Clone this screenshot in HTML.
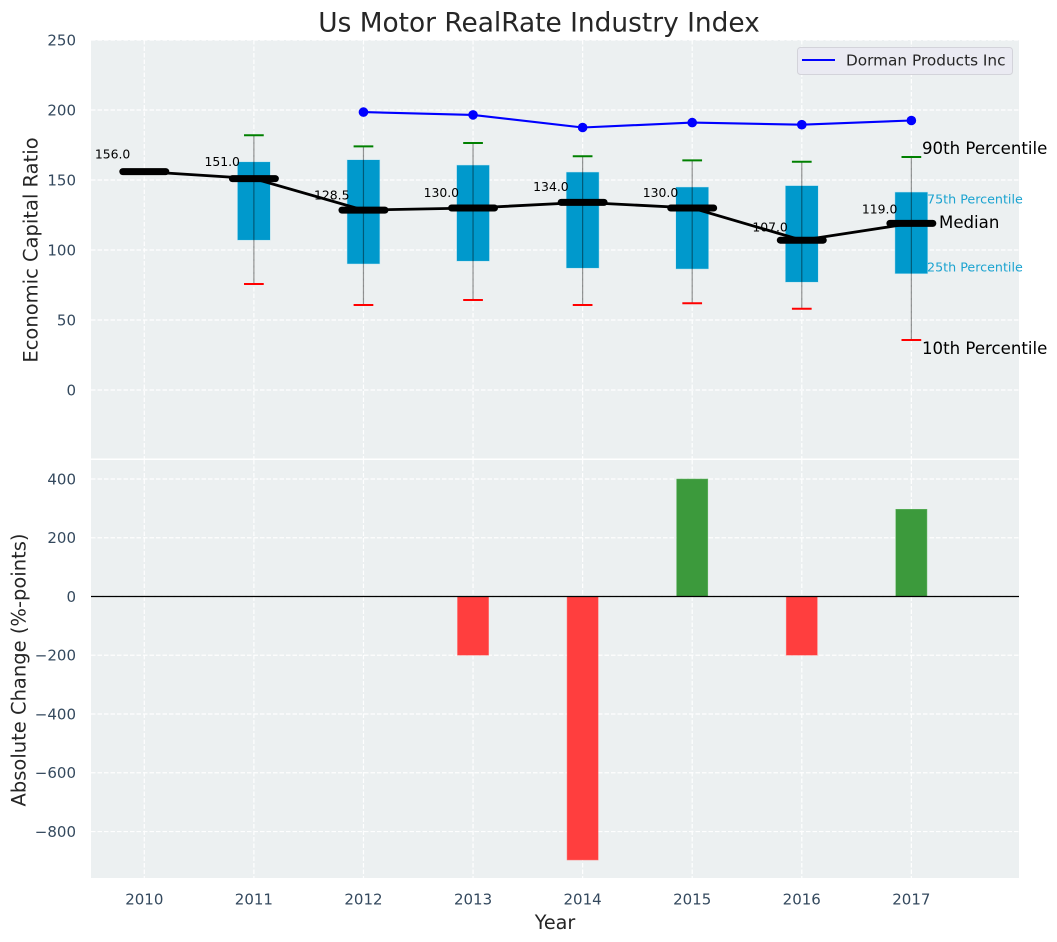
<!DOCTYPE html>
<html lang="en">
<head>
<meta charset="utf-8">
<title>Us Motor RealRate Industry Index</title>
<style>
  html, body { margin: 0; padding: 0; background: #fff; }
  svg { display: block; }
  text { font-family: "DejaVu Sans", "Liberation Sans", sans-serif; }
</style>
</head>
<body>
<svg id="chart" xmlns="http://www.w3.org/2000/svg" width="1057" height="942" viewBox="0 0 1057 942">
  <rect x="0" y="0" width="1057" height="942" fill="#ffffff"/>
  <rect x="91" y="40" width="928" height="418.5" fill="#ecf0f1"/>
  <rect x="91" y="460" width="928" height="418" fill="#ecf0f1"/>
  <g id="grid"></g>
  <g id="ticks"></g>
  <g id="marks-top"></g>
  <g id="marks-bottom"></g>
  <text x="539" y="31.5" text-anchor="middle" font-size="26.4" fill="#262626">Us Motor RealRate Industry Index</text>
  <text transform="translate(37.5,250) rotate(-90)" text-anchor="middle" font-size="19.5" fill="#262626">Economic Capital Ratio</text>
  <text transform="translate(25.5,670) rotate(-90)" text-anchor="middle" font-size="19.5" fill="#262626">Absolute Change (%-points)</text>
  <text x="555" y="929" text-anchor="middle" font-size="19.2" fill="#262626">Year</text>
  <g>
    <rect x="797.5" y="47.5" width="215" height="27" rx="3" fill="#eaeaf2" stroke="#d3d3da" stroke-width="1"/>
    <line x1="802" y1="60" x2="835" y2="60" stroke="#0000ff" stroke-width="2"/>
    <text x="846" y="65.5" font-size="15.3" fill="#262626">Dorman Products Inc</text>
  </g>
  <g>
    <text x="922" y="154" font-size="16.6" fill="#000">90th Percentile</text>
    <text x="927" y="203.5" font-size="12.7" fill="#1ba3d0">75th Percentile</text>
    <text x="939" y="228" font-size="16.6" fill="#000">Median</text>
    <text x="927" y="271.5" font-size="12.7" fill="#1ba3d0">25th Percentile</text>
    <text x="922" y="354" font-size="16.6" fill="#000">10th Percentile</text>
  </g>
</svg>
<script>
const years = [2010, 2011, 2012, 2013, 2014, 2015, 2016, 2017];
const medians = [156, 151, 128.5, 130, 134, 130, 107, 119];
const q75 = [null, 163, 164.5, 160.7, 155.7, 145, 146, 141.4];
const q25 = [null, 107, 90, 92, 87, 86.4, 77, 83];
const p90 = [null, 182, 174, 176.4, 167, 164, 163, 166.4];
const p10 = [null, 75.7, 60.7, 64.3, 60.7, 62, 58, 35.7];
const companyYears = [2012, 2013, 2014, 2015, 2016, 2017];
const companyValues = [198.5, 196.5, 187.5, 191, 189.5, 192.5];
const changeYears = [2013, 2014, 2015, 2016, 2017];
const changeValues = [-200, -897, 400, -200, 297];
const topTicks = [0, 50, 100, 150, 200, 250];
const bottomTicks = [-800, -600, -400, -200, 0, 200, 400];

const NS = 'http://www.w3.org/2000/svg';
const xScale = function (year) { return 144.3 + (year - 2010) * 109.58; };
const xUnit = function (years) { return years * 109.58; };
const yTop = function (v) { return 390 - v * 1.4; };
const yBottom = function (v) { return 596.5 - v * 0.2938; };

function make(parent, tag, attrs, content) {
  const el = document.createElementNS(NS, tag);
  Object.keys(attrs).forEach(function (k) { el.setAttribute(k, attrs[k]); });
  if (content !== undefined) el.textContent = content;
  parent.appendChild(el);
  return el;
}

const gridG = document.getElementById('grid');
const tickG = document.getElementById('ticks');
const topG = document.getElementById('marks-top');
const botG = document.getElementById('marks-bottom');
const gridStyle = { stroke: '#ffffff', 'stroke-width': 1.2, 'stroke-dasharray': '4.5 2', opacity: 0.95 };

years.forEach(function (yr) {
  const x = xScale(yr);
  const a = make(gridG, 'line', Object.assign({ x1: x, x2: x, y1: 40, y2: 458.5 }, gridStyle));
  
  
  const b = make(gridG, 'line', Object.assign({ x1: x, x2: x, y1: 460, y2: 878 }, gridStyle));
  
  
  const t = make(tickG, 'text', { x: x, y: 904.5, 'text-anchor': 'middle', 'font-size': 15, fill: '#34495e' }, String(yr));
  
  
});

topTicks.forEach(function (v) {
  const y = yTop(v);
  const g = make(gridG, 'line', Object.assign({ x1: 91, x2: 1019, y1: y, y2: y }, gridStyle));
  
  
  const t = make(tickG, 'text', { x: 76, y: y + 5.3, 'text-anchor': 'end', 'font-size': 15, fill: '#34495e' }, String(v));
  
  
});

bottomTicks.forEach(function (v) {
  const y = yBottom(v);
  const g = make(gridG, 'line', Object.assign({ x1: 91, x2: 1019, y1: y, y2: y }, gridStyle));
  
  
  const label = v < 0 ? '\u2212' + Math.abs(v) : String(v);
  const t = make(tickG, 'text', { x: 76, y: y + 5.3, 'text-anchor': 'end', 'font-size': 15, fill: '#34495e' }, label);
  
  
});

/* boxes */
years.forEach(function (yr, i) {
  if (q75[i] === null) return;
  const x = xScale(yr);
  const w = xUnit(0.3);
  const box = make(topG, 'rect', { x: x - w / 2, y: yTop(q75[i]), width: w, height: yTop(q25[i]) - yTop(q75[i]), fill: '#0099cc', stroke: '#bfe6f2', 'stroke-width': 0.5 });
  
  
});

/* whiskers */
years.forEach(function (yr, i) {
  if (p90[i] === null) return;
  const x = xScale(yr);
  const cap = xUnit(0.09);
  const stem = make(topG, 'line', { x1: x, x2: x, y1: yTop(p90[i]), y2: yTop(p10[i]), stroke: '#000000', 'stroke-opacity': 0.42, 'stroke-width': 1.2 });
  
  
  const hi = make(topG, 'line', { x1: x - cap, x2: x + cap, y1: yTop(p90[i]), y2: yTop(p90[i]), stroke: '#008000', 'stroke-width': 2 });
  
  
  const lo = make(topG, 'line', { x1: x - cap, x2: x + cap, y1: yTop(p10[i]), y2: yTop(p10[i]), stroke: '#ff0000', 'stroke-width': 2 });
  
  
});

/* company line */
const companyPoints = companyYears.map(function (yr, i) { return xScale(yr) + ',' + yTop(companyValues[i]); }).join(' ');
const companyLine = make(topG, 'polyline', { points: companyPoints, fill: 'none', stroke: '#0000ff', 'stroke-width': 2.1 });


companyYears.forEach(function (yr, i) {
  const dot = make(topG, 'circle', { cx: xScale(yr), cy: yTop(companyValues[i]), r: 4.8, fill: '#0000ff' });
  
  
});

/* median line and bars */
const medianPoints = years.map(function (yr, i) { return xScale(yr) + ',' + yTop(medians[i]); }).join(' ');
const medianLine = make(topG, 'polyline', { points: medianPoints, fill: 'none', stroke: '#000000', 'stroke-width': 2.8 });


years.forEach(function (yr, i) {
  const x = xScale(yr);
  const half = xUnit(0.196);
  const m = make(topG, 'line', { x1: x - half, x2: x + half, y1: yTop(medians[i]), y2: yTop(medians[i]), stroke: '#000000', 'stroke-width': 7, 'stroke-linecap': 'round' });
  
  
  const t = make(topG, 'text', { x: x - 31.7, y: yTop(medians[i] * 1.06 + 3) + 4.3, 'text-anchor': 'middle', 'font-size': 12.4, fill: '#000000' }, medians[i].toFixed(1));
  
  
});

/* change bars */
changeYears.forEach(function (yr, i) {
  const v = changeValues[i];
  const w = xUnit(0.285);
  const top = Math.min(yBottom(v), yBottom(0));
  const h = Math.abs(yBottom(v) - yBottom(0));
  const bar = make(botG, 'rect', { x: xScale(yr) - w / 2, y: top, width: w, height: h, fill: v < 0 ? '#ff3e3e' : '#3c9a3c', stroke: v < 0 ? '#ff8080' : '#66b866', 'stroke-width': 0.5 });
  
  
});
const zero = make(botG, 'line', { x1: 91, x2: 1019, y1: yBottom(0), y2: yBottom(0), stroke: '#000000', 'stroke-width': 1.3 });


</script>
</body>
</html>
